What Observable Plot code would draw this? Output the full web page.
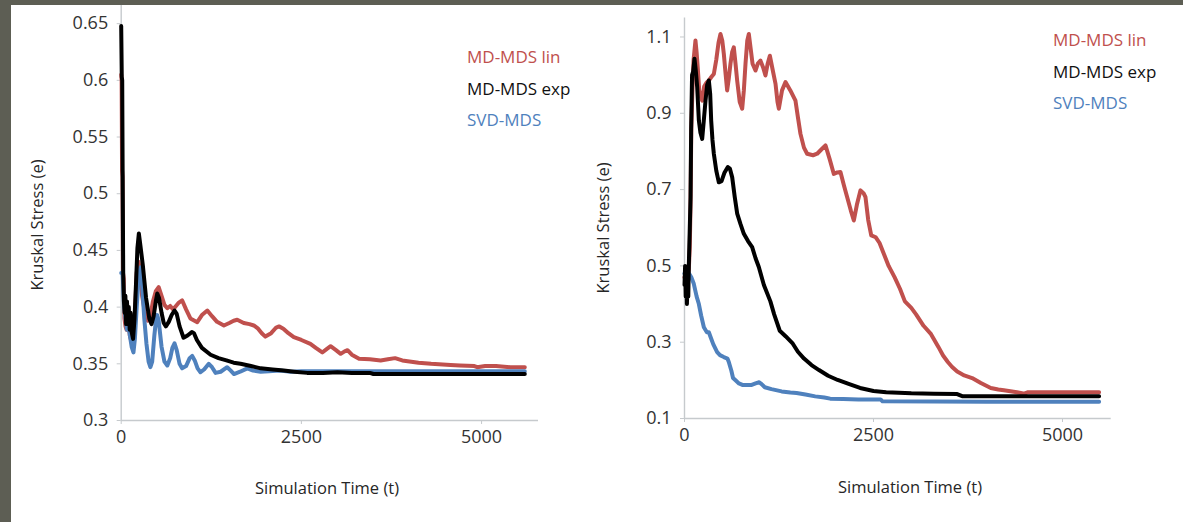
<!DOCTYPE html>
<html><head><meta charset="utf-8">
<script src="https://cdn.jsdelivr.net/npm/d3@7"></script>
<script src="https://cdn.jsdelivr.net/npm/@observablehq/plot@0.6"></script>
<style>
body{margin:0;background:#fff;}
#wrap{position:relative;width:1183px;height:522px;background:#5d5e54;overflow:hidden;font-family:"Open Sans",sans-serif;}
#paper{position:absolute;left:11px;top:5px;width:1172px;height:517px;background:#fff;}
.panel{position:absolute;top:5px;}
.lbl{position:absolute;white-space:nowrap;color:#262626;line-height:20px;}
.leg{font-size:17px;}
.ttl{font-size:16.5px;}
.rot{transform:translate(-50%,-50%) rotate(-90deg);}
.ctr{transform:translate(-50%,-50%);}
</style></head><body>
<div id="wrap"><div id="paper"></div></div>
<script>
// ---- series names & colors ----
const seriesNames = ["MD-MDS lin", "MD-MDS exp", "SVD-MDS"];
const seriesColors = ["#c0504d", "#000000", "#4f81bd"];

// ---- LEFT panel ----
const leftYTicks = [0.3, 0.35, 0.4, 0.45, 0.5, 0.55, 0.6, 0.65];
const leftXTicks = [0, 2500, 5000];

const leftLinT = [0,6,12,18,25,35,45,60,75,90,105,120,140,160,175,195,215,240,265,290,330,370,400,440,480,520,560,600,640,680,720,760,800,845,900,960,1055,1120,1195,1260,1330,1425,1500,1560,1610,1700,1780,1840,1900,1950,2000,2080,2150,2190,2250,2320,2395,2500,2625,2700,2790,2850,2905,2980,3045,3100,3140,3200,3300,3450,3600,3700,3800,3900,4125,4300,4570,4700,4900,4940,5050,5200,5400,5600];
const leftLinV = [0.605,0.600,0.520,0.515,0.430,0.425,0.390,0.383,0.380,0.400,0.385,0.375,0.370,0.365,0.367,0.400,0.430,0.440,0.430,0.410,0.395,0.388,0.390,0.405,0.414,0.4176,0.410,0.402,0.399,0.401,0.398,0.401,0.404,0.406,0.398,0.390,0.3867,0.393,0.397,0.392,0.387,0.3838,0.386,0.388,0.3888,0.386,0.385,0.3838,0.381,0.377,0.374,0.377,0.382,0.383,0.381,0.377,0.3735,0.371,0.3676,0.364,0.360,0.363,0.3655,0.362,0.3588,0.361,0.362,0.358,0.3544,0.354,0.353,0.354,0.355,0.353,0.351,0.350,0.349,0.3485,0.348,0.347,0.348,0.348,0.347,0.347];

const leftExpT = [0,8,14,20,28,38,48,58,68,80,92,105,118,130,145,165,185,205,225,245,265,300,345,390,420,450,480,500,525,560,590,620,660,700,740,770,810,865,920,980,1010,1050,1120,1240,1350,1460,1560,1655,1800,1935,2100,2255,2400,2580,2800,3000,3200,3450,3500,4000,5000,5600];
const leftExpV = [0.648,0.603,0.600,0.520,0.430,0.405,0.395,0.410,0.385,0.405,0.390,0.400,0.380,0.395,0.378,0.372,0.390,0.420,0.452,0.465,0.455,0.437,0.408,0.390,0.385,0.392,0.405,0.412,0.408,0.395,0.386,0.383,0.387,0.393,0.397,0.394,0.383,0.373,0.375,0.378,0.377,0.371,0.364,0.358,0.355,0.353,0.351,0.350,0.348,0.346,0.345,0.344,0.343,0.342,0.342,0.3425,0.342,0.342,0.341,0.341,0.341,0.341];

const leftSvdT = [0,20,40,60,80,100,120,145,170,190,215,245,270,290,320,350,380,405,430,460,485,500,520,560,600,640,680,710,740,770,810,845,900,950,985,1020,1060,1100,1150,1215,1260,1310,1380,1470,1520,1565,1650,1750,1830,1935,2050,2200,2350,2500,3000,4000,5000,5600];
const leftSvdV = [0.430,0.430,0.400,0.390,0.380,0.385,0.375,0.365,0.360,0.372,0.400,0.430,0.435,0.420,0.390,0.368,0.352,0.347,0.352,0.375,0.390,0.393,0.388,0.365,0.352,0.3485,0.355,0.364,0.368,0.362,0.350,0.346,0.348,0.355,0.357,0.353,0.346,0.3426,0.345,0.350,0.347,0.342,0.343,0.347,0.344,0.341,0.343,0.346,0.344,0.343,0.3435,0.344,0.343,0.3435,0.3435,0.3435,0.3435,0.3435];

// ---- RIGHT panel ----
const rightYTicks = [0.1, 0.3, 0.5, 0.7, 0.9, 1.1];
const rightXTicks = [0, 2500, 5000];

const rightLinT = [0,20,40,57,70,80,90,105,120,145,160,175,195,212,234,260,290,322,355,388,420,450,476,500,520,545,564,585,608,630,652,675,697,730,763,785,807,830,851,875,900,939,970,1005,1040,1071,1100,1129,1160,1204,1230,1248,1290,1336,1400,1468,1500,1534,1580,1622,1700,1755,1810,1865,1920,1975,2020,2063,2110,2152,2200,2240,2280,2328,2370,2394,2430,2470,2530,2580,2640,2700,2780,2850,2915,3000,3063,3162,3261,3360,3420,3483,3540,3607,3700,3804,3920,4051,4150,4224,4397,4496,4545,4800,5484];
const rightLinV = [0.470,0.480,0.470,0.490,0.550,0.660,0.860,0.960,1.040,1.091,1.060,1.020,0.960,0.945,0.933,0.970,0.980,0.986,0.995,1.003,1.040,1.085,1.108,1.090,1.056,1.000,0.960,0.990,1.030,1.060,1.073,1.030,0.985,0.930,0.912,0.960,1.030,1.090,1.108,1.070,1.030,1.012,1.030,1.038,1.020,0.999,1.030,1.051,1.020,0.977,0.930,0.912,0.960,0.982,0.960,0.933,0.890,0.846,0.810,0.794,0.790,0.794,0.805,0.816,0.780,0.741,0.745,0.746,0.710,0.680,0.645,0.619,0.660,0.698,0.690,0.680,0.620,0.580,0.575,0.560,0.530,0.500,0.470,0.440,0.407,0.390,0.373,0.343,0.321,0.287,0.265,0.248,0.235,0.223,0.213,0.206,0.193,0.180,0.176,0.174,0.169,0.165,0.169,0.169,0.169];

const rightExpT = [0,8,16,24,32,40,50,57,70,80,88,100,115,132,150,168,180,190,210,234,255,278,300,322,340,353,370,388,420,454,490,530,573,600,631,665,697,740,785,840,895,940,983,1050,1136,1186,1260,1340,1433,1500,1581,1680,1779,1900,2026,2180,2322,2500,2668,3000,3300,3607,3681,4500,5484];
const rightExpV = [0.450,0.500,0.420,0.490,0.400,0.470,0.420,0.500,0.600,0.680,0.860,1.000,1.010,1.043,1.010,0.968,0.920,0.881,0.850,0.833,0.880,0.933,0.975,0.986,0.950,0.881,0.830,0.794,0.750,0.719,0.722,0.745,0.759,0.755,0.732,0.680,0.637,0.610,0.584,0.565,0.549,0.520,0.497,0.450,0.407,0.373,0.330,0.315,0.296,0.275,0.257,0.240,0.227,0.212,0.201,0.190,0.180,0.172,0.169,0.166,0.165,0.164,0.158,0.158,0.158];

const rightSvdT = [0,30,60,90,123,160,190,220,256,296,322,346,380,432,469,520,568,586,620,642,675,720,766,830,889,940,988,1020,1062,1150,1285,1400,1482,1600,1729,1850,1927,2100,2300,2594,2619,4000,5484];
const rightSvdV = [0.480,0.490,0.480,0.470,0.453,0.420,0.400,0.370,0.339,0.326,0.326,0.313,0.295,0.274,0.266,0.261,0.257,0.248,0.225,0.206,0.200,0.192,0.188,0.188,0.188,0.192,0.195,0.190,0.182,0.177,0.171,0.168,0.167,0.163,0.158,0.155,0.152,0.151,0.150,0.150,0.145,0.144,0.144];

function rows(list) {
  return list.flatMap(([name, T, V]) => T.map((t, i) => ({name, t, v: V[i]})));
}

function panel(o) {
  const axisColor = "#c6cacd";
  const data = rows(o.series);
  const chart = Plot.plot({
    width: o.width, height: 517,
    marginLeft: o.marginLeft, marginRight: o.marginRight,
    marginTop: o.marginTop, marginBottom: o.marginBottom,
    style: {background: "transparent", fontFamily: "Open Sans", fontSize: "18px", overflow: "visible"},
    x: {domain: [0, o.xMax]},
    y: {domain: o.yDomain},
    color: {domain: seriesNames, range: seriesColors},
    marks: [
      Plot.ruleY([o.yDomain[0]], {stroke: axisColor, strokeWidth: 1.4}),
      Plot.ruleX([0], {stroke: axisColor, strokeWidth: 1.4}),
      Plot.axisY(o.yTicks, {tickSize: 4, tickPadding: 9, stroke: axisColor, fill: "#333", tickFormat: d => String(d), label: null}),
      Plot.axisX(o.xTicks, {tickSize: 4, tickPadding: 6, stroke: axisColor, fill: "#333", tickFormat: d => String(d), label: null}),
      Plot.line(data, {x: "t", y: "v", z: "name", stroke: "name", strokeWidth: 4})
    ]
  });
  chart.classList.add("panel");
  chart.style.left = o.left + "px";
  chart.style.position = "absolute";
  chart.style.top = "5px";
  return chart;
}

const wrap = document.getElementById("wrap");
wrap.appendChild(panel({
  left: 11, width: 580, marginLeft: 109.7, marginRight: 53, marginTop: 0, marginBottom: 102,
  xMax: 5790, yDomain: [0.3, 0.666], yTicks: leftYTicks, xTicks: leftXTicks,
  series: [[seriesNames[0], leftLinT, leftLinV], [seriesNames[2], leftSvdT, leftSvdV], [seriesNames[1], leftExpT, leftExpV]]
}));
wrap.appendChild(panel({
  left: 591, width: 592, marginLeft: 93, marginRight: 72.3, marginTop: 12.4, marginBottom: 104,
  xMax: 5644, yDomain: [0.1, 1.15], yTicks: rightYTicks, xTicks: rightXTicks,
  series: [[seriesNames[0], rightLinT, rightLinV], [seriesNames[2], rightSvdT, rightSvdV], [seriesNames[1], rightExpT, rightExpV]]
}));

function label(text, cls, x, y, color) {
  const d = document.createElement("div");
  d.className = "lbl " + cls;
  d.textContent = text;
  d.style.left = x + "px";
  d.style.top = y + "px";
  if (color) d.style.color = color;
  wrap.appendChild(d);
}
// legends
[[467, [57, 89, 120]], [1053, [40, 72, 103]]].forEach(([x, ys]) => {
  seriesNames.forEach((n, i) => label(n, "leg", x, ys[i] - 10, seriesColors[i] === "#000000" ? "#111" : seriesColors[i]));
});
// axis titles
label("Simulation Time (t)", "ttl ctr", 327, 488);
label("Simulation Time (t)", "ttl ctr", 910, 487);
label("Kruskal Stress (e)", "ttl rot", 37, 225);
label("Kruskal Stress (e)", "ttl rot", 603, 228);
</script>
</body></html>
